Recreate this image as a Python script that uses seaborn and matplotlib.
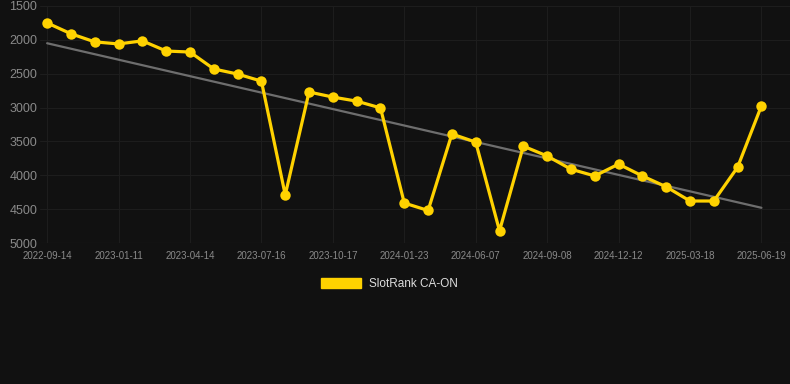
import numpy as np
import pandas as pd
import seaborn as sns
import matplotlib.pyplot as plt
import matplotlib.patches as mpatches

# rank values per date (lower is better, axis inverted)
dates = ['2022-09-14', '2022-10-23', '2022-12-01', '2023-01-11', '2023-02-08',
         '2023-03-14', '2023-04-14', '2023-05-12', '2023-06-14', '2023-07-16',
         '2023-08-18', '2023-09-18', '2023-10-17', '2023-11-16', '2023-12-20',
         '2024-01-23', '2024-02-27', '2024-04-03', '2024-06-07', '2024-07-10',
         '2024-08-09', '2024-09-08', '2024-10-10', '2024-11-11', '2024-12-12',
         '2025-01-14', '2025-02-14', '2025-03-18', '2025-04-18', '2025-05-19',
         '2025-06-19']
ranks = [1750, 1910, 2030, 2060, 2015, 2165, 2180, 2430, 2505, 2610,
         4290, 2770, 2845, 2905, 3005, 4410, 4520, 3390, 3510, 4820,
         3570, 3715, 3910, 4010, 3835, 4010, 4170, 4380, 4380, 3880,
         2975]
trend_ends = [2050, 4480]

df = pd.DataFrame({'date': dates, 'rank': ranks})
df['idx'] = np.arange(len(df))

sns.set_theme(style='dark')
plt.rcParams['font.family'] = ['Liberation Sans', 'DejaVu Sans']

bg = '#111111'
yellow = '#FFD200'

fig = plt.figure(figsize=(7.9, 3.84), dpi=100, facecolor=bg)
ax = fig.add_axes([40 / 790, 1 - 243 / 384, 750 / 790, 237 / 384])
ax.set_facecolor(bg)

# trend line
ax.plot([0, len(df) - 1], trend_ends, color='#6e6e6e', lw=1.6, zorder=2)

sns.lineplot(data=df, x='idx', y='rank', color=yellow, lw=2.3,
             marker='o', markersize=7.5, markeredgewidth=0, ax=ax, zorder=3)

ax.set_ylim(5000, 1500)
ax.set_xlim(-0.3, 31.2)
ax.set_yticks([1500, 2000, 2500, 3000, 3500, 4000, 4500, 5000])
ticks = list(range(0, len(df), 3))
ax.set_xticks(ticks)
ax.set_xticklabels([dates[i] for i in ticks])
ax.tick_params(axis='y', colors='#8a8a8a', labelsize=9, length=0, pad=2)
ax.tick_params(axis='x', colors='#8a8a8a', labelsize=7, length=0, pad=6)
ax.grid(True, color='#1d1d1d', lw=0.8)
for s in ax.spines.values():
    s.set_visible(False)
ax.axhline(5000, color='#2a2a2a', lw=0.8, zorder=1)
ax.set_xlabel('')
ax.set_ylabel('')

handle = mpatches.Patch(color=yellow, label='SlotRank CA-ON')
leg = fig.legend(handles=[handle], loc='center', bbox_to_anchor=(0.493, 1 - 284 / 384),
                 frameon=False, fontsize=8.5, handlelength=3.4, handleheight=0.9,
                 handletextpad=0.7)
for t in leg.get_texts():
    t.set_color('#dddddd')

fig.savefig('out.png', dpi=100, facecolor=bg)
